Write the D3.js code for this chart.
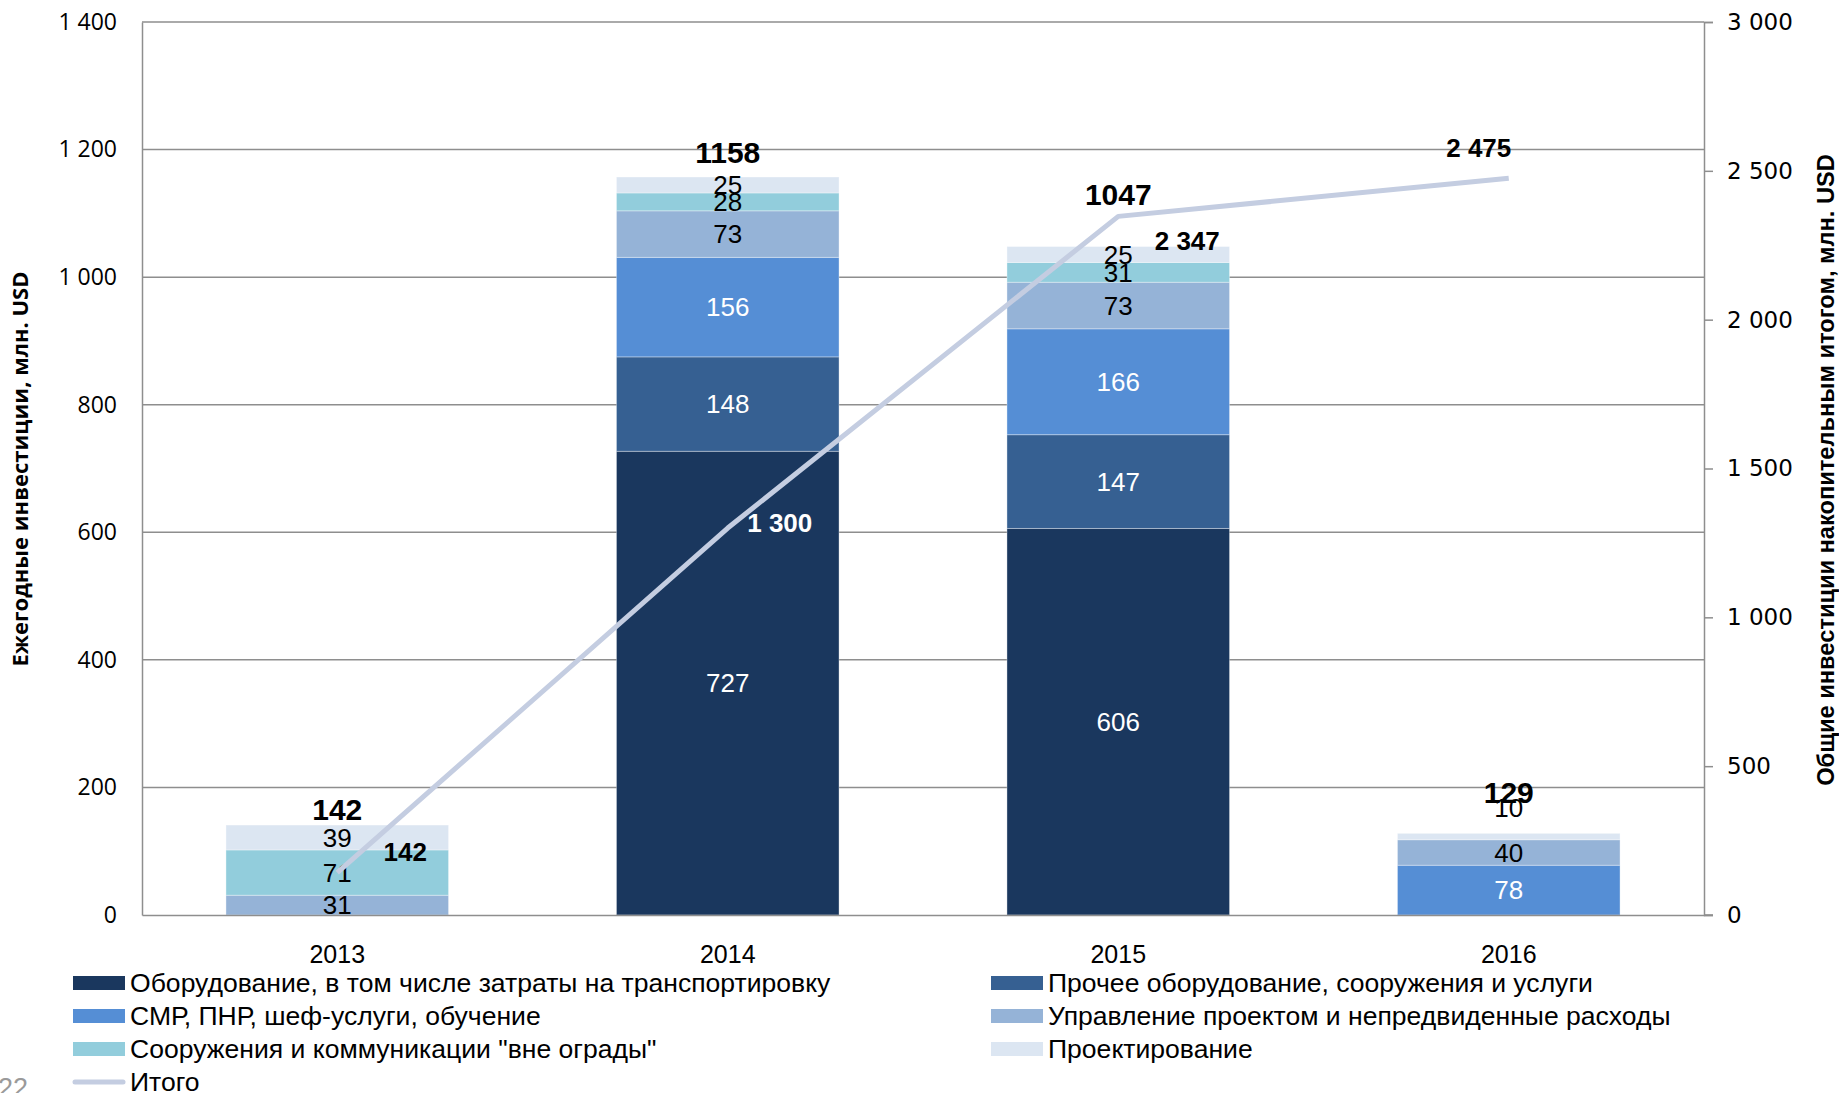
<!DOCTYPE html>
<html><head><meta charset="utf-8">
<script src="https://cdn.jsdelivr.net/npm/d3@7"></script>
<style>
html,body{margin:0;padding:0;background:#fff;overflow:hidden}
svg{display:block}
</style></head>
<body>
<svg id="chart" width="1839" height="1093"></svg>
<script>
// ---------- DATA ----------
const years = ["2013", "2014", "2015", "2016"];
const seriesNames = [
  "Оборудование, в том числе затраты на транспортировку",
  "Прочее оборудование, сооружения и услуги",
  "СМР, ПНР, шеф-услуги, обучение",
  "Управление проектом и непредвиденные расходы",
  "Сооружения и коммуникации \"вне ограды\"",
  "Проектирование"
];
const equipment    = [0, 727, 606, 0];
const otherEquip   = [0, 148, 147, 0];
const smr          = [0, 156, 166, 78];
const management   = [31, 73, 73, 40];
const offsite      = [71, 28, 31, 0];
const design       = [39, 25, 25, 10];
const totals       = [142, 1158, 1047, 129];
const lineName     = "Итого";
const cumulative   = [142, 1300, 2347, 2475];
const leftTicks    = [0, 200, 400, 600, 800, 1000, 1200, 1400];
const rightTicks   = [0, 500, 1000, 1500, 2000, 2500, 3000];
const leftTitle    = "Ежегодные инвестиции, млн. USD";
const rightTitle   = "Общие инвестиции накопительным итогом, млн. USD";
const pageNumber   = "22";

// ---------- STYLE ----------
const colors = ["#1A375E", "#366092", "#558ED5", "#95B3D7", "#92CDDC", "#DCE6F2"];
const labelColors = ["#fff", "#fff", "#fff", "#000", "#000", "#000"];
const lineColor = "#C4CDE1";
const gridColor = "#8E8E8E";
const plot = {left: 142, right: 1704, top: 22, bottom: 915};
// label nudges (styling)
const totalDy = [-5, -14, -42, -30];
const lineLabelOffset = [[68, -21], [52, -5], [69, 24], [-30, -31]];
const lineLabelColor = ["#000", "#fff", "#000", "#000"];

const svg = d3.select("#chart");
const values = [equipment, otherEquip, smr, management, offsite, design];
const table = years.map((y, i) => {
  const o = {year: y};
  seriesNames.forEach((s, k) => o[s] = values[k][i]);
  return o;
});
const stack = d3.stack().keys(seriesNames)(table);

const x = d3.scaleBand().domain(years).range([plot.left, plot.right]).paddingInner(0.43).paddingOuter(0.215);
const y = d3.scaleLinear().domain([0, 1400]).range([plot.bottom, plot.top]);
const y2 = d3.scaleLinear().domain([0, 3000]).range([plot.bottom, plot.top]);
const loc = d3.formatLocale({decimal: ",", thousands: " ", grouping: [3], currency: ["", ""]});
const fmt = loc.format(",d");

// gridlines
svg.append("g").selectAll("line").data(leftTicks.filter(d => d > 0)).join("line")
  .attr("x1", plot.left).attr("x2", plot.right)
  .attr("y1", d => y(d)).attr("y2", d => y(d))
  .attr("stroke", gridColor).attr("stroke-width", 1.5);

// left axis
const gL = svg.append("g").attr("transform", `translate(${plot.left},0)`)
  .call(d3.axisLeft(y).tickValues(leftTicks).tickFormat(fmt).tickSize(0).tickPadding(25));
gL.select(".domain").attr("stroke", gridColor).attr("stroke-width", 1.5);
gL.selectAll("text").attr("font-family", "'Open Sans', sans-serif").attr("font-size", 23).attr("fill", "#000");

// right axis
const gR = svg.append("g").attr("transform", `translate(${plot.right},0)`)
  .call(d3.axisRight(y2).tickValues(rightTicks).tickFormat(fmt).tickSize(9).tickPadding(14));
gR.select(".domain").attr("stroke", gridColor).attr("stroke-width", 1.5);
gR.selectAll("line").attr("stroke", gridColor).attr("stroke-width", 1.5);
gR.selectAll("text").attr("font-family", "'DejaVu Sans', sans-serif").attr("font-size", 23).attr("fill", "#000");

// bars
const gBars = svg.append("g");
stack.forEach((layer, k) => {
  gBars.append("g").selectAll("rect").data(layer).join("rect")
    .attr("x", d => x(d.data.year)).attr("width", x.bandwidth())
    .attr("y", d => y(d[1])).attr("height", d => y(d[0]) - y(d[1]))
    .attr("fill", colors[k])
    .attr("stroke", "#fff").attr("stroke-opacity", 0.35).attr("stroke-width", 1);
});

// bottom axis
const gB = svg.append("g").attr("transform", `translate(0,${plot.bottom})`)
  .call(d3.axisBottom(x).tickSize(0).tickPadding(30));
gB.select(".domain").attr("stroke", gridColor).attr("stroke-width", 1.5);
svg.append("line").attr("x1", plot.right).attr("x2", plot.right + 9)
  .attr("y1", plot.bottom).attr("y2", plot.bottom).attr("stroke", gridColor).attr("stroke-width", 1.5);
gB.selectAll("text").attr("font-family", "'Liberation Sans Narrow', 'Liberation Sans', sans-serif")
  .attr("font-size", 25).attr("fill", "#000");

// segment labels
const gSeg = svg.append("g").attr("font-family", "'Liberation Sans', Arial, sans-serif").attr("font-size", 26);
stack.forEach((layer, k) => {
  gSeg.append("g").selectAll("text").data(layer.filter(d => d[1] - d[0] > 0)).join("text")
    .attr("x", d => x(d.data.year) + x.bandwidth() / 2)
    .attr("y", d => (y(d[0]) + y(d[1])) / 2 + ((d[1] - d[0]) < 15 && d[0] > 100 && d[1] < 200 ? -29 : 0))
    .attr("dy", "0.36em")
    .attr("text-anchor", "middle").attr("fill", labelColors[k])
    .text(d => d[1] - d[0]);
});

// totals
svg.append("g").selectAll("text").data(totals).join("text")
  .attr("x", (d, i) => x(years[i]) + x.bandwidth() / 2)
  .attr("y", (d, i) => y(d3.sum(values, v => v[i])) + totalDy[i])
  .attr("text-anchor", "middle")
  .attr("font-family", "'Liberation Sans', Arial, sans-serif").attr("font-size", 30).attr("font-weight", "bold")
  .text(d => d);

// cumulative line
const lineGen = d3.line().x((d, i) => x(years[i]) + x.bandwidth() / 2).y(d => y2(d));
svg.append("path").datum(cumulative).attr("d", lineGen)
  .attr("fill", "none").attr("stroke", lineColor).attr("stroke-width", 5).attr("stroke-linejoin", "round");

svg.append("g").selectAll("text").data(cumulative).join("text")
  .attr("x", (d, i) => x(years[i]) + x.bandwidth() / 2 + lineLabelOffset[i][0])
  .attr("y", (d, i) => y2(d) + lineLabelOffset[i][1])
  .attr("dy", "0.36em").attr("text-anchor", "middle")
  .attr("font-family", "'Liberation Sans', Arial, sans-serif").attr("font-size", 26).attr("font-weight", "bold")
  .attr("fill", (d, i) => lineLabelColor[i])
  .text(d => fmt(d));

// axis titles
svg.append("text").attr("transform", `translate(28,469) rotate(-90)`)
  .attr("text-anchor", "middle").attr("font-family", "'Open Sans', sans-serif").attr("font-size", 22)
  .attr("font-weight", "bold").text(leftTitle);
const rt = svg.append("text").attr("transform", `translate(1834,470) rotate(-90)`)
  .attr("text-anchor", "middle").attr("font-family", "'Liberation Sans Narrow', 'Liberation Sans', sans-serif").attr("font-size", 24)
  .attr("font-weight", "bold").text(rightTitle);
{
  const len = rt.node().getComputedTextLength();
  const k = 632 / len;
  rt.attr("transform", `translate(1834,470) rotate(-90) scale(${k},1)`);
}

// legend
const legendItems = [
  {name: seriesNames[0], col: 0, row: 0, color: colors[0]},
  {name: seriesNames[2], col: 0, row: 1, color: colors[2]},
  {name: seriesNames[4], col: 0, row: 2, color: colors[4]},
  {name: lineName, col: 0, row: 3, color: lineColor, line: true},
  {name: seriesNames[1], col: 1, row: 0, color: colors[1]},
  {name: seriesNames[3], col: 1, row: 1, color: colors[3]},
  {name: seriesNames[5], col: 1, row: 2, color: colors[5]}
];
const colX = [73, 991];
const rowY = d => 983 + d * 33;
const gLeg = svg.append("g");
const legTexts = [];
legendItems.forEach(it => {
  const sx = colX[it.col], cy = rowY(it.row);
  if (it.line) {
    gLeg.append("line").attr("x1", sx + 2).attr("x2", sx + 50).attr("y1", cy).attr("y2", cy)
      .attr("stroke", it.color).attr("stroke-width", 5).attr("stroke-linecap", "round");
  } else {
    gLeg.append("rect").attr("x", sx).attr("y", cy - 7).attr("width", 52).attr("height", 14).attr("fill", it.color);
  }
  const t = gLeg.append("text").attr("font-family", "'Liberation Sans Narrow', 'Liberation Sans', sans-serif")
    .attr("font-size", 26).attr("fill", "#000").text(it.name)
    .attr("transform", `translate(${sx + 57},${cy + 9})`);
  legTexts.push({t, sx, cy});
});
{
  const k = 701 / legTexts[0].t.node().getComputedTextLength();
  legTexts.forEach(o => o.t.attr("transform", `translate(${o.sx + 57},${o.cy + 9}) scale(${k},1)`));
}

// page number (cut off at bottom)
svg.append("text").attr("x", -2).attr("y", 1097).attr("font-family", "'Liberation Sans', Arial, sans-serif")
  .attr("font-size", 27).attr("fill", "#9A9A9A").text(pageNumber);
</script>
</body></html>
